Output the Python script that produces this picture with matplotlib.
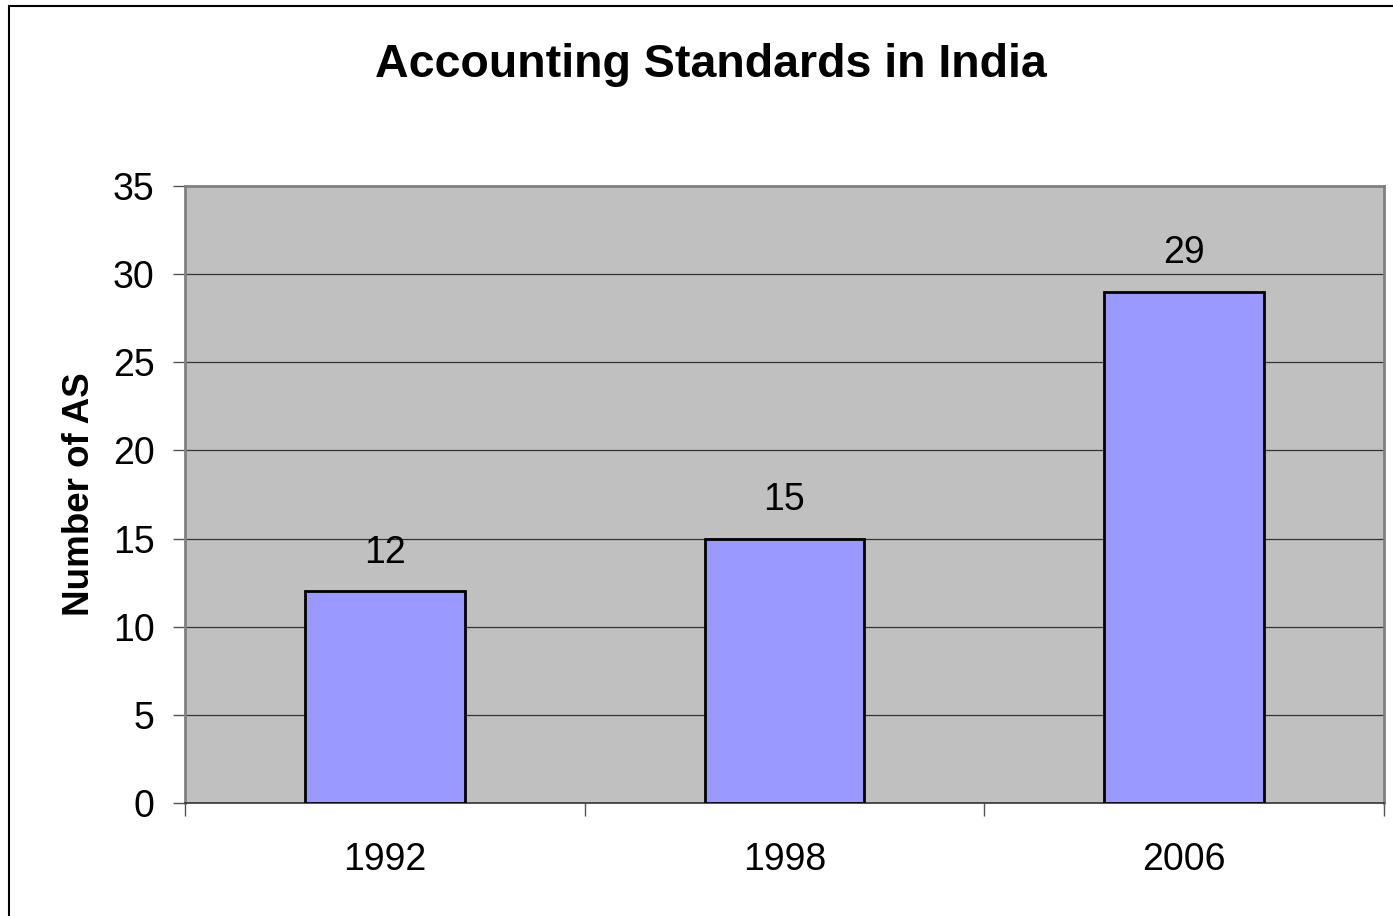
import numpy as np
import matplotlib.pyplot as plt
from matplotlib.patches import Rectangle

# data
years = ['1992', '1998', '2006']
num_as = [12, 15, 29]

plt.rcParams['font.family'] = ['Liberation Sans', 'DejaVu Sans']

fig = plt.figure(figsize=(13.93, 9.16), dpi=100)
ax = fig.add_axes([0.1328, 0.1234, 0.8607, 0.6736])

# figure frame (only the left and top edges are visible)
fig.patches.append(Rectangle((9 / 1393, -0.1), 1.2, (916 - 6) / 916 + 0.1,
                             transform=fig.transFigure, fill=False,
                             edgecolor='black', linewidth=1.5))

ax.set_facecolor('#C0C0C0')
x = np.arange(len(years))
bars = ax.bar(x, num_as, width=0.4, color='#9999FF', edgecolor='black',
              linewidth=2, zorder=3)

for xi, v in zip(x, num_as):
    ax.annotate(str(v), (xi, v), xytext=(0, 15), textcoords='offset points',
                ha='center', va='bottom', fontsize=27)

ax.set_xlim(-0.5, len(years) - 0.5)
ax.set_ylim(0, 35)
ax.set_yticks(np.arange(0, 36, 5))
ax.yaxis.grid(True, color='#333333', linewidth=0.9, zorder=1)
ax.set_axisbelow(True)

ax.set_xticks(x)
ax.set_xticklabels(years)
ax.set_xticks(np.arange(-0.5, len(years), 1.0), minor=True)
ax.tick_params(axis='x', which='major', length=0, pad=28, labelsize=27)
ax.tick_params(axis='x', which='minor', length=9, width=1, color='#555555')
ax.tick_params(axis='y', length=9, width=1, color='#555555', pad=13, labelsize=27)

for side in ['top', 'right', 'left']:
    ax.spines[side].set_color('#808080')
    ax.spines[side].set_linewidth(2)
ax.spines['bottom'].set_color('#333333')
ax.spines['bottom'].set_linewidth(1.2)

ax.set_ylabel('Number of AS', fontsize=26.5, fontweight='bold', labelpad=11)

fig.text(711 / 1393, 1 - 65 / 916, 'Accounting Standards in India',
         ha='center', va='center', fontsize=33.5, fontweight='bold')

fig.savefig('out.png', dpi=100)
